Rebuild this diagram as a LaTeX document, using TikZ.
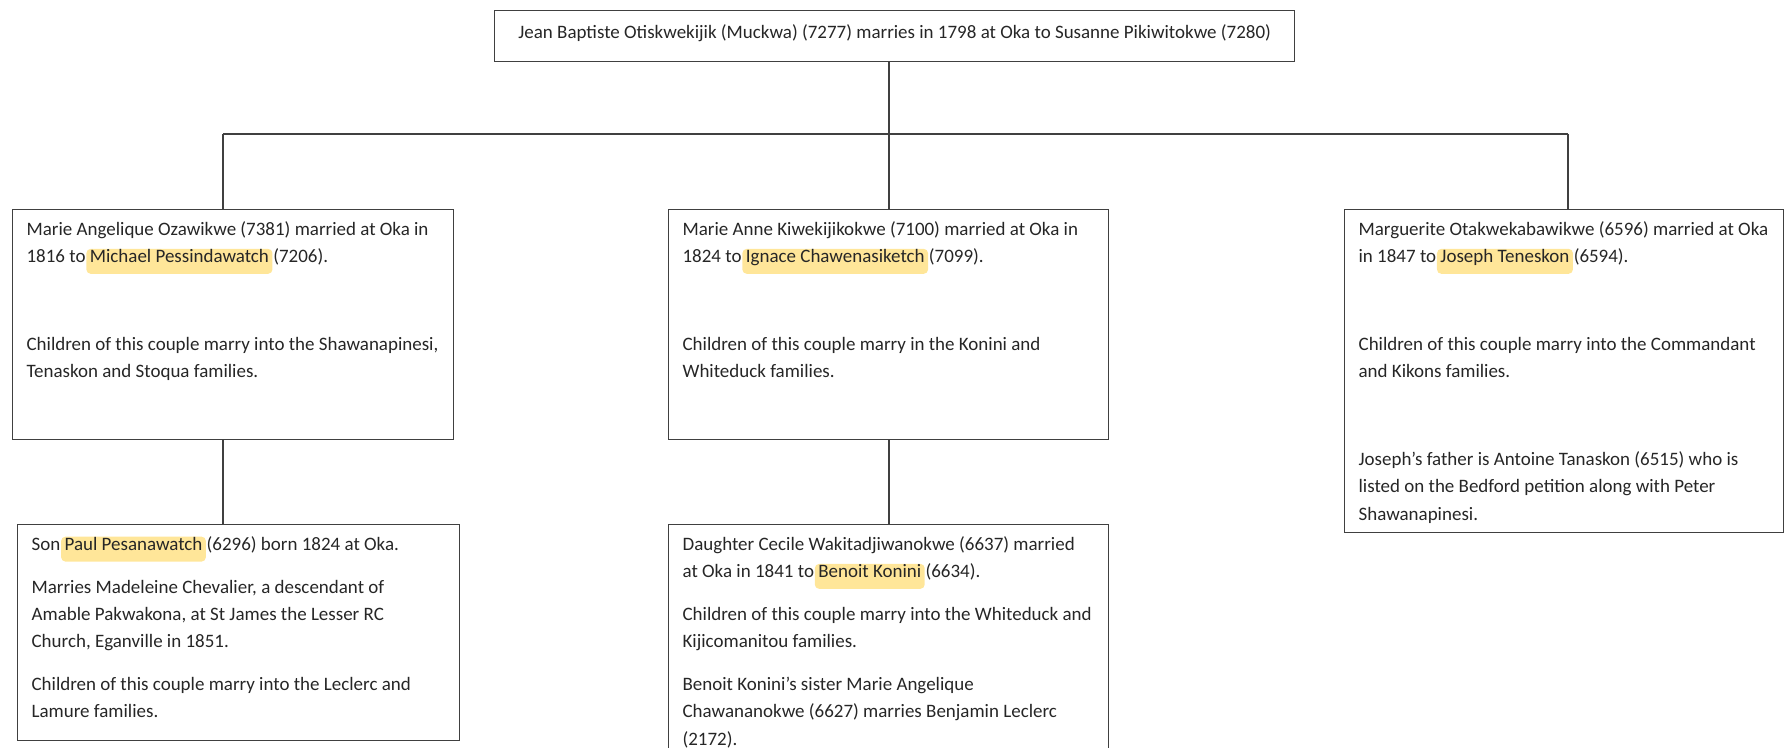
\documentclass[tikz,border=0pt]{standalone}
\usepackage{fontspec}
\setmainfont{Carlito}
\usepackage{tikz}
\usetikzlibrary{positioning, calc}
\usepackage{xcolor}
\definecolor{linegray}{RGB}{64, 64, 64}
\definecolor{textgray}{RGB}{38, 38, 38}
\definecolor{hlyellow}{RGB}{255, 230, 153}

% text set inside every family box
\newcommand{\boxfont}{\fontsize{10.8pt}{15.5pt}\selectfont\raggedright\rightskip=0pt plus 1fil minus 1cm\setlength{\parskip}{0.31cm}}
\newcommand{\blankpar}{\par\vspace{0.9cm}}
\newcommand{\boxtext}[3]{\parbox[t][#1][t]{#2}{\boxfont\rule{0pt}{0.52cm}#3}}

\tikzset{
    family box/.style={
        rectangle,
        draw=linegray,
        line width=0.7pt,
        anchor=north west,
        inner xsep=0.28cm,
        inner ysep=0pt,
        text=textgray
    },
    name highlight/.style={
        rectangle,
        draw=none,
        fill=hlyellow,
        rounded corners=2.5pt,
        anchor=base,
        inner xsep=0.07cm,
        inner ysep=0pt,
        minimum size=0pt,
        text height=0.28cm,
        text depth=0.22cm,
        text=textgray
    },
    link/.style={
        draw=linegray,
        line width=0.7pt
    }
}
\newcommand{\hlname}[1]{\hspace*{-0.07cm}\tikz[baseline=(hl.base)]\node[name highlight] (hl) {#1};\hspace*{-0.07cm}}

\begin{document}
\begin{tikzpicture}

\useasboundingbox (0, 0) rectangle (35.74, -14.96);

% Parents
\node[family box, inner xsep=0pt] (parents) at (9.88, -0.20) {
    \parbox[t][1.02cm][t]{16cm}{\boxfont\centering\rule{0pt}{0.55cm}Jean Baptiste Otiskwekijik (Muckwa) (7277) marries in 1798 at Oka to Susanne Pikiwitokwe (7280)}
};

% Children
\node[family box] (angelique) at (0.24, -4.18) {
    \boxtext{4.60cm}{8.26cm}{Marie Angelique Ozawikwe (7381) married at Oka in\\
    1816 to \hlname{Michael Pessindawatch} (7206).
    \blankpar
    Children of this couple marry into the Shawanapinesi,\\
    Tenaskon and Stoqua families.}
};

\node[family box] (anne) at (13.36, -4.18) {
    \boxtext{4.60cm}{8.24cm}{Marie Anne Kiwekijikokwe (7100) married at Oka in\\
    1824 to \hlname{Ignace Chawenasiketch} (7099).
    \blankpar
    Children of this couple marry in the Konini and\\
    Whiteduck families.}
};

\node[family box] (marguerite) at (26.88, -4.18) {
    \boxtext{6.46cm}{8.22cm}{Marguerite Otakwekabawikwe (6596) married at Oka\\
    in 1847 to \hlname{Joseph Teneskon} (6594).
    \blankpar
    Children of this couple marry into the Commandant\\
    and Kikons families.
    \blankpar
    Joseph’s father is Antoine Tanaskon (6515) who is\\
    listed on the Bedford petition along with Peter\\
    Shawanapinesi.}
};

% Grandchildren
\node[family box] (paul) at (0.34, -10.48) {
    \boxtext{4.32cm}{8.28cm}{Son \hlname{Paul Pesanawatch} (6296) born 1824 at Oka.

    Marries Madeleine Chevalier, a descendant of\\
    Amable Pakwakona, at St James the Lesser RC\\
    Church, Eganville in 1851.

    Children of this couple marry into the Leclerc and\\
    Lamure families.}
};

\node[family box] (cecile) at (13.36, -10.48) {
    \boxtext{5.00cm}{8.24cm}{Daughter Cecile Wakitadjiwanokwe (6637) married\\
    at Oka in 1841 to \hlname{Benoit Konini} (6634).

    Children of this couple marry into the Whiteduck and\\
    Kijicomanitou families.

    Benoit Konini’s sister Marie Angelique\\
    Chawananokwe (6627) marries Benjamin Leclerc\\
    (2172).}
};

% Tree lines
\coordinate (split) at (17.78, -2.68);
\coordinate (leftdrop) at (4.46, -2.68);
\coordinate (rightdrop) at (31.36, -2.68);

\draw[link] (split |- parents.south) -- (split);
\draw[link] (leftdrop) -- (rightdrop);
\draw[link] (leftdrop) -- (leftdrop |- angelique.north);
\draw[link] (split) -- (split |- anne.north);
\draw[link] (rightdrop) -- (rightdrop |- marguerite.north);

\draw[link] (leftdrop |- angelique.south) -- (leftdrop |- paul.north);
\draw[link] (split |- anne.south) -- (split |- cecile.north);

\end{tikzpicture}
\end{document}
